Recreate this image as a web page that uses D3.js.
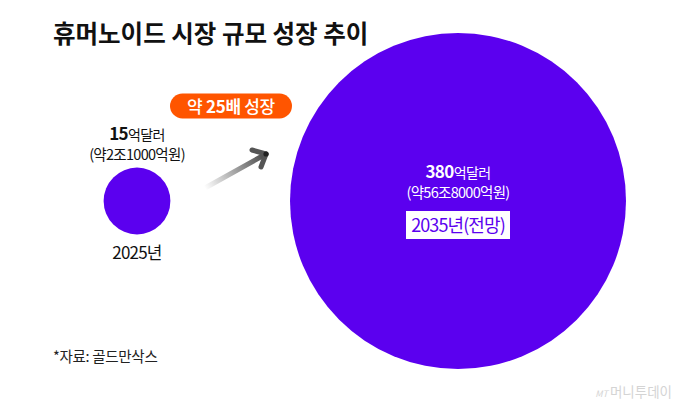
<!DOCTYPE html>
<html>
<head>
<meta charset="utf-8">
<script src="https://cdn.jsdelivr.net/npm/d3@7"></script>
<style>
  body { margin: 0; background: #fff; }
  svg { display: block; font-family: "Noto Sans CJK KR", "Noto Sans", sans-serif; }
</style>
</head>
<body>
<svg width="680" height="407"></svg>
<script>
const years = ['2025년', '2035년(전망)'];
const values = [15, 380];               // 억달러
const krwLabels = ['(약2조1000억원)', '(약56조8000억원)'];
const growthLabel = ['약 ', '25배', ' 성장'];

const svg = d3.select('svg');
const width = +svg.attr('width');
const height = +svg.attr('height');

const purple = '#5b00ef';
const orange = '#ff5500';

const data = years.map((y, i) => ({year: y, value: values[i], krw: krwLabels[i]}));

const xScale = d3.scalePoint()
	.domain(years)
	.range([137, 458]);

const rScale = d3.scaleSqrt()
	.domain([0, d3.max(values)])
	.range([0, 168]);

const cy = 201;

// title
svg.append('text')
	.attr('x', 53)
	.attr('y', 43)
	.attr('font-size', 24.5)
	.attr('font-weight', 700)
	.attr('fill', '#111')
	.text('휴머노이드 시장 규모 성장 추이');

// bubbles
svg.selectAll('circle.bubble').data(data)
	.enter().append('circle')
		.attr('class', 'bubble')
		.attr('cx', d => xScale(d.year))
		.attr('cy', cy)
		.attr('r', d => rScale(d.value))
		.attr('fill', purple);

// arrow with gradient
const defs = svg.append('defs');
const grad = defs.append('linearGradient')
	.attr('id', 'arrowGrad')
	.attr('gradientUnits', 'userSpaceOnUse')
	.attr('x1', 205).attr('y1', 188)
	.attr('x2', 266).attr('y2', 153);
grad.append('stop').attr('offset', '0%').attr('stop-color', '#fff');
grad.append('stop').attr('offset', '100%').attr('stop-color', '#444');

const arrow = svg.append('g')
	.attr('fill', 'none')
	.attr('stroke-linecap', 'round')
	.attr('stroke-linejoin', 'round')
	.attr('stroke-width', 5);
arrow.append('line')
	.attr('x1', 205).attr('y1', 188)
	.attr('x2', 266).attr('y2', 154)
	.attr('stroke', 'url(#arrowGrad)');
arrow.append('path')
	.attr('d', 'M252,150 L266,154 L261,167')
	.attr('stroke', '#555');
svg.append('circle')
	.attr('cx', 266).attr('cy', 154).attr('r', 2.6)
	.attr('fill', '#222');

// growth badge
const badge = svg.append('g').attr('transform', 'translate(231,106)');
badge.append('rect')
	.attr('x', -61).attr('y', -12.5)
	.attr('width', 122).attr('height', 25)
	.attr('rx', 12.5)
	.attr('fill', orange);
const bt = badge.append('text')
	.attr('text-anchor', 'middle')
	.attr('y', 6.5)
	.attr('font-size', 17)
	.attr('letter-spacing', -0.3)
	.attr('fill', '#fff');
bt.selectAll('tspan').data(growthLabel)
	.enter().append('tspan')
		.attr('font-weight', (d, i) => i === 1 ? 700 : 500)
		.attr('xml:space', 'preserve')
		.text(d => d);

// value labels
const labels = svg.selectAll('g.label').data(data)
	.enter().append('g')
		.attr('class', 'label')
		.attr('transform', (d, i) => i === 0
			? `translate(${xScale(d.year)}, ${cy - rScale(d.value) - 28})`
			: `translate(${xScale(d.year)}, ${cy - 23})`);

const valText = labels.append('text')
	.attr('text-anchor', 'middle')
	.attr('fill', (d, i) => i === 0 ? '#111' : '#fff')
	.attr('font-size', 14)
	.attr('letter-spacing', -0.6);
valText.append('tspan')
	.attr('font-weight', 700)
	.attr('font-size', 17)
	.text(d => d.value);
valText.append('tspan')
	.text('억달러');

labels.append('text')
	.attr('text-anchor', 'middle')
	.attr('y', 20)
	.attr('font-size', 14.5)
	.attr('letter-spacing', -0.7)
	.attr('fill', (d, i) => i === 0 ? '#111' : '#fff')
	.text(d => d.krw);

// year labels
const small = data[0];
svg.append('text')
	.attr('x', xScale(small.year))
	.attr('y', cy + rScale(small.value) + 25)
	.attr('text-anchor', 'middle')
	.attr('font-size', 17)
	.attr('letter-spacing', -0.8)
	.attr('fill', '#111')
	.text(small.year);

const big = data[1];
const yearBox = svg.append('g')
	.attr('transform', `translate(${xScale(big.year)}, ${cy + 24})`);
yearBox.append('rect')
	.attr('x', -52).attr('y', -14)
	.attr('width', 104).attr('height', 28)
	.attr('fill', '#fff');
yearBox.append('text')
	.attr('text-anchor', 'middle')
	.attr('y', 7)
	.attr('font-size', 18)
	.attr('letter-spacing', -0.9)
	.attr('fill', purple)
	.text(big.year);

// source
svg.append('text')
	.attr('x', 53)
	.attr('y', 362)
	.attr('font-size', 14.5)
	.attr('letter-spacing', -0.3)
	.attr('fill', '#222')
	.text('*자료: 골드만삭스');

// watermark
const wm = svg.append('text')
	.attr('x', 672)
	.attr('y', 397)
	.attr('text-anchor', 'end')
	.attr('fill', '#d4d4d4')
	.attr('font-size', 13.5);
wm.append('tspan')
	.attr('font-style', 'italic')
	.attr('font-size', 9)
	.text('MT ');
wm.append('tspan').text('머니투데이');
</script>
</body>
</html>
